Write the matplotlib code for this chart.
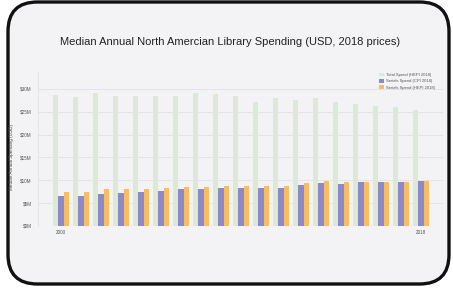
import matplotlib
matplotlib.use("Agg")
import matplotlib.pyplot as plt
import numpy as np
from matplotlib.patches import FancyBboxPatch

years = list(range(2000, 2019))
total_hepi = [28.7, 28.3, 29.0, 28.4, 28.5, 28.4, 28.5, 29.2, 28.9, 28.5,
              27.2, 28.1, 27.6, 28.0, 27.1, 26.7, 26.3, 26.0, 25.4]
serials_cpi = [6.5, 6.5, 7.1, 7.3, 7.4, 7.6, 8.0, 8.0, 8.3, 8.3,
               8.3, 8.3, 8.9, 9.4, 9.2, 9.6, 9.6, 9.6, 9.8]
serials_hepi = [7.5, 7.5, 8.0, 8.1, 8.2, 8.4, 8.5, 8.5, 8.8, 8.8,
                8.7, 8.8, 9.4, 9.9, 9.7, 9.7, 9.7, 9.6, 9.8]
series_names = ["Total Spend (HEPI 2018)", "Serials Spend (CPI 2018)",
                "Serials Spend (HEPI 2018)"]
yticks = [0, 5, 10, 15, 20, 25, 30]
ytick_labels = ["$0M", "$5M", "$10M", "$15M", "$20M", "$25M", "$30M"]
title = "Median Annual North Amercian Library Spending (USD, 2018 prices)"
ylabel = "Median Annual Spending (USD)"

plt.rcParams['font.family'] = ['Liberation Sans', 'DejaVu Sans']
W, H = 453, 289
fig = plt.figure(figsize=(W / 100, H / 100), dpi=100)
fig.patch.set_facecolor("white")

bg = "#f3f3f6"
box = FancyBboxPatch((8 / W, 5 / H), (449 - 8) / W, (287 - 5) / H,
                     boxstyle="round,pad=0,rounding_size=0.065",
                     transform=fig.transFigure, facecolor=bg,
                     edgecolor="#111111", linewidth=2.4, zorder=-5,
                     mutation_aspect=W / H)
fig.patches.append(box)

# axes: x from 38 to 443 px, y from 72 to 226 px (top-down)
ax = fig.add_axes([38 / W, (H - 226) / H, (443 - 38) / W, (226 - 72) / H])
ax.set_facecolor("none")
ax.set_zorder(5)

x = np.arange(len(years))
bw = 0.27
ax.bar(x - bw, total_hepi, bw, color="#dce9d5", label=series_names[0], zorder=2)
ax.bar(x, serials_cpi, bw, color="#8d88c8", label=series_names[1], zorder=2)
ax.bar(x + bw, serials_hepi, bw, color="#f8bd62", label=series_names[2], zorder=2)

ax.set_xlim(-1.15, 19.1)
ax.set_ylim(0, 33.7)
ax.set_yticks(yticks)
ax.set_yticklabels(ytick_labels)
ax.set_xticks([0, len(years) - 1])
ax.set_xticklabels([str(years[0]), str(years[-1])])
ax.tick_params(axis="both", labelsize=3.3, colors="#555555", length=0, pad=3)
ax.tick_params(axis="y", pad=4.5)
ax.grid(axis="y", color="#e2e2e6", linewidth=0.6, zorder=0)
for s in ["top", "right", "bottom"]:
    ax.spines[s].set_visible(False)
ax.spines["left"].set_color("#e0e0e4")
ax.spines["left"].set_linewidth(0.6)
ax.set_ylabel(ylabel, fontsize=3.3, color="#444444")
ax.yaxis.set_label_coords(-(38 - 14) / (443 - 38), 0.45)

leg = ax.legend(loc="upper right", bbox_to_anchor=(0.99, 1.02), frameon=False,
                fontsize=3.0, handlelength=1.2, handleheight=1.0,
                labelspacing=0.5, handletextpad=0.6, labelcolor="#555555")

fig.text(230 / W, 1 - 42 / H, title, ha="center", va="center",
         fontsize=8, color="#222222")

fig.savefig("out.png", dpi=100)
